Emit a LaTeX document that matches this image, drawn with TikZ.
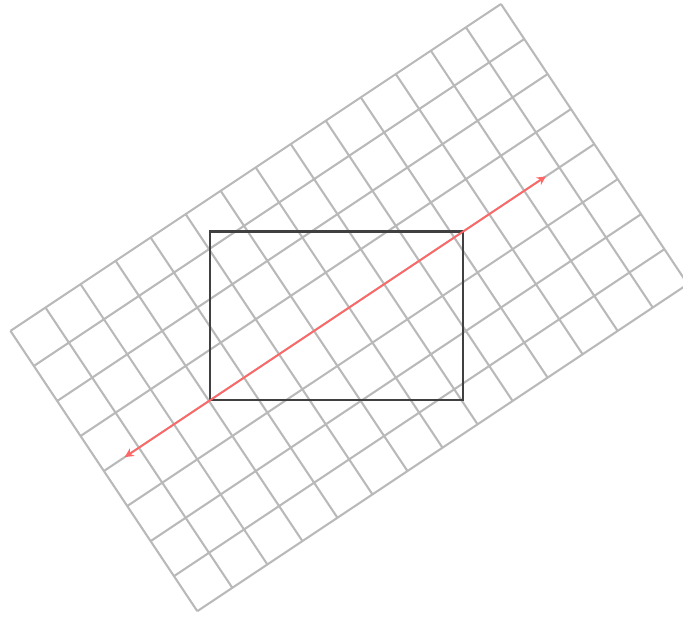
\documentclass[tikz,border=0pt]{standalone}
\usetikzlibrary{arrows.meta}
\begin{document}
\begin{tikzpicture}[
  gridline/.style={gray!55, line width=0.7pt},
  boxline/.style={black!75, line width=0.8pt},
  axisarrow/.style={red!60, line width=0.6pt, {Stealth[length=3pt,width=3pt]}-{Stealth[length=3pt,width=3pt]}}
]
\useasboundingbox (-2.482,-2.577) rectangle (5.629,4.762);
\clip (-2.482,-2.577) rectangle (5.629,4.762);
\begin{scope}[rotate={atan(2/3)}]
  \draw[gridline] (-1.5,-2) grid[step=0.5] (5.5,2);
\end{scope}
\node[draw, boxline, inner sep=0pt, minimum width=3cm, minimum height=2cm, anchor=south west] (box) at (0,0) {};
\coordinate (a) at (-1,-2/3);
\coordinate (b) at (4,8/3);
\draw[axisarrow] (a) -- (b);
\end{tikzpicture}
\end{document}
